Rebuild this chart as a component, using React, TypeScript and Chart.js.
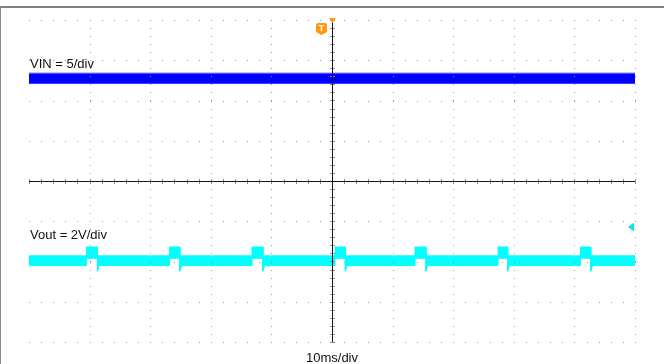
import { useEffect, useRef } from "react";
import { Chart, registerables } from "chart.js";

Chart.register(...registerables);

// Time axis: 10 ms/div, 10 divisions. Vertical axis in screen divisions (8 divisions).
const timeRangeMs = [0, 100];
const divRange = [-4, 4];

// VIN trace (5 V/div) – noisy band envelope, in divisions
const vinTimeMs = [0, 100];
const vinUpperDiv = [2.68, 2.68];
const vinLowerDiv = [2.43, 2.43];

// Vout trace (2 V/div) – band with periodic bumps
const voutBumpStartMs = [9.5, 23.2, 36.8, 50.5, 63.7, 77.4, 91.0];
const voutBumpEndMs = [11.3, 24.9, 38.6, 52.2, 65.5, 79.0, 92.7];
const voutBaseUpperDiv = -1.86;
const voutBaseLowerDiv = -2.1;
const voutBumpUpperDiv = -1.64;
const voutBumpLowerDiv = -1.92;
const voutDipLowerDiv = -2.24;
const voutDipWidthMs = 0.3;

const labels = {
  vin: "VIN = 5/div",
  vout: "Vout = 2V/div",
  time: "10ms/div",
};

function buildVoutUpper() {
  const pts = [{ x: timeRangeMs[0], y: voutBaseUpperDiv }];
  voutBumpStartMs.forEach((s, i) => {
    const e = voutBumpEndMs[i];
    pts.push({ x: s, y: voutBaseUpperDiv });
    pts.push({ x: s, y: voutBumpUpperDiv });
    pts.push({ x: e, y: voutBumpUpperDiv });
    pts.push({ x: e, y: voutBaseUpperDiv });
  });
  pts.push({ x: timeRangeMs[1], y: voutBaseUpperDiv });
  return pts;
}

function buildVoutLower() {
  const pts = [{ x: timeRangeMs[0], y: voutBaseLowerDiv }];
  voutBumpStartMs.forEach((s, i) => {
    const e = voutBumpEndMs[i];
    pts.push({ x: s, y: voutBaseLowerDiv });
    pts.push({ x: s, y: voutBumpLowerDiv });
    pts.push({ x: e, y: voutBumpLowerDiv });
    pts.push({ x: e, y: voutDipLowerDiv });
    pts.push({ x: e + voutDipWidthMs, y: voutBaseLowerDiv });
  });
  pts.push({ x: timeRangeMs[1], y: voutBaseLowerDiv });
  return pts;
}

const scopePlugin = {
  id: "scopeDecor",
  afterDatasetsDraw(chart: any) {
    const ctx = chart.ctx as CanvasRenderingContext2D;
    const xs = chart.scales.x;
    const ys = chart.scales.y;
    const px = (v: number) => xs.getPixelForValue(v);
    const py = (v: number) => ys.getPixelForValue(v);
    const left = px(timeRangeMs[0]);
    const right = px(timeRangeMs[1]);
    const top = py(divRange[1]);
    const bottom = py(divRange[0]);
    const cx = px(50);
    const cy = py(0);
    ctx.save();

    // dotted grid
    ctx.fillStyle = "#9a9a9a";
    for (let d = -4; d <= 4; d++) {
      if (d === 0) continue;
      const y = Math.round(py(d));
      for (let t = 0; t <= 100.001; t += 2) {
        ctx.fillRect(Math.round(px(t)), y, 1, 1);
      }
    }
    for (let t = 10; t <= 100; t += 10) {
      if (t === 50) continue;
      const x = Math.round(px(t));
      for (let d = -4; d <= 4.001; d += 0.2) {
        ctx.fillRect(x, Math.round(py(d)), 1, 1);
      }
    }

    // center axes
    ctx.fillStyle = "#8a8a8a";
    for (let t = 0; t <= 100.001; t += 2) {
      ctx.fillRect(Math.round(px(t)), Math.round(cy) - 2, 1, 5);
    }
    for (let d = -4; d <= 4.001; d += 0.2) {
      ctx.fillRect(Math.round(cx) - 2, Math.round(py(d)), 5, 1);
    }
    ctx.fillStyle = "#111111";
    ctx.fillRect(left, Math.round(cy), right - left, 1);
    ctx.fillRect(Math.round(cx), top, 1, bottom - top);

    ctx.restore();
  },
  afterDraw(chart: any) {
    const ctx = chart.ctx as CanvasRenderingContext2D;
    const xs = chart.scales.x;
    const ys = chart.scales.y;
    const cx = xs.getPixelForValue(50);
    const top = ys.getPixelForValue(divRange[1]);
    const left = xs.getPixelForValue(timeRangeMs[0]);
    const right = xs.getPixelForValue(timeRangeMs[1]);
    ctx.save();

    // frame lines
    ctx.fillStyle = "#7f7f7f";
    ctx.fillRect(0, 6, chart.width, 2);
    ctx.fillStyle = "#8c8c8c";
    ctx.fillRect(0, 6, 1, chart.height - 6);

    // trigger position marker
    ctx.fillStyle = "#ff9a10";
    ctx.beginPath();
    ctx.moveTo(cx - 3, top - 2);
    ctx.lineTo(cx + 4, top - 2);
    ctx.lineTo(cx + 0.5, top + 3);
    ctx.closePath();
    ctx.fill();

    // trigger level badge
    const bx = cx - 16;
    const by = top + 3;
    ctx.beginPath();
    ctx.moveTo(bx + 2, by);
    ctx.lineTo(bx + 9, by);
    ctx.quadraticCurveTo(bx + 11, by, bx + 11, by + 2);
    ctx.lineTo(bx + 11, by + 9);
    ctx.lineTo(bx + 5.5, by + 12);
    ctx.lineTo(bx, by + 9);
    ctx.lineTo(bx, by + 2);
    ctx.quadraticCurveTo(bx, by, bx + 2, by);
    ctx.closePath();
    ctx.fill();
    ctx.fillStyle = "#ffffff";
    ctx.font = "bold 9px 'Liberation Sans', Arial, sans-serif";
    ctx.textAlign = "center";
    ctx.textBaseline = "middle";
    ctx.fillText("T", bx + 5.5, by + 5.5);

    // CH2 reference arrow
    const ay = ys.getPixelForValue(-1.14);
    ctx.fillStyle = "#00e8f0";
    ctx.beginPath();
    ctx.moveTo(right - 7, ay);
    ctx.lineTo(right - 1, ay - 4.5);
    ctx.lineTo(right - 1, ay + 4.5);
    ctx.closePath();
    ctx.fill();

    // labels
    ctx.fillStyle = "#111111";
    ctx.font = "13px 'Liberation Sans', Arial, sans-serif";
    ctx.textAlign = "left";
    ctx.textBaseline = "alphabetic";
    ctx.fillText(labels.vin, left + 1, 68);
    ctx.fillText(labels.vout, left + 1, 239);
    ctx.textAlign = "center";
    ctx.fillText(labels.time, cx, 362);

    ctx.restore();
  },
};

export default function App() {
  const ref = useRef<HTMLCanvasElement | null>(null);

  useEffect(() => {
    if (!ref.current) return;
    const vinUpper = vinTimeMs.map((t, i) => ({ x: t, y: vinUpperDiv[i] }));
    const vinLower = vinTimeMs.map((t, i) => ({ x: t, y: vinLowerDiv[i] }));
    const chart = new Chart(ref.current, {
      type: "line",
      data: {
        datasets: [
          {
            label: "VIN upper",
            data: vinUpper,
            borderColor: "#5a5aff",
            borderWidth: 1,
            pointRadius: 0,
            fill: false,
          },
          {
            label: "VIN",
            data: vinLower,
            borderColor: "#0000f0",
            backgroundColor: "#0000ff",
            borderWidth: 1,
            pointRadius: 0,
            fill: "-1",
          },
          {
            label: "Vout upper",
            data: buildVoutUpper(),
            borderColor: "#00ffff",
            borderWidth: 1,
            pointRadius: 0,
            fill: false,
          },
          {
            label: "Vout",
            data: buildVoutLower(),
            borderColor: "#00ffff",
            backgroundColor: "#00ffff",
            borderWidth: 1,
            pointRadius: 0,
            fill: "-1",
          },
        ],
      },
      options: {
        animation: false,
        responsive: false,
        maintainAspectRatio: false,
        layout: { padding: { left: 29, right: 29, top: 20, bottom: 22 } },
        plugins: {
          legend: { display: false },
          tooltip: { enabled: false },
          title: { display: false },
        },
        elements: { line: { tension: 0 } },
        scales: {
          x: { type: "linear", display: false, min: timeRangeMs[0], max: timeRangeMs[1] },
          y: { type: "linear", display: false, min: divRange[0], max: divRange[1] },
        },
      },
      plugins: [scopePlugin],
    });
    return () => chart.destroy();
  }, []);

  return (
    <div style={{ position: "fixed", left: 0, top: 0, width: 664, height: 364, background: "#ffffff" }}>
      <canvas ref={ref} width={664} height={364} style={{ display: "block", width: 664, height: 364 }} />
    </div>
  );
}
